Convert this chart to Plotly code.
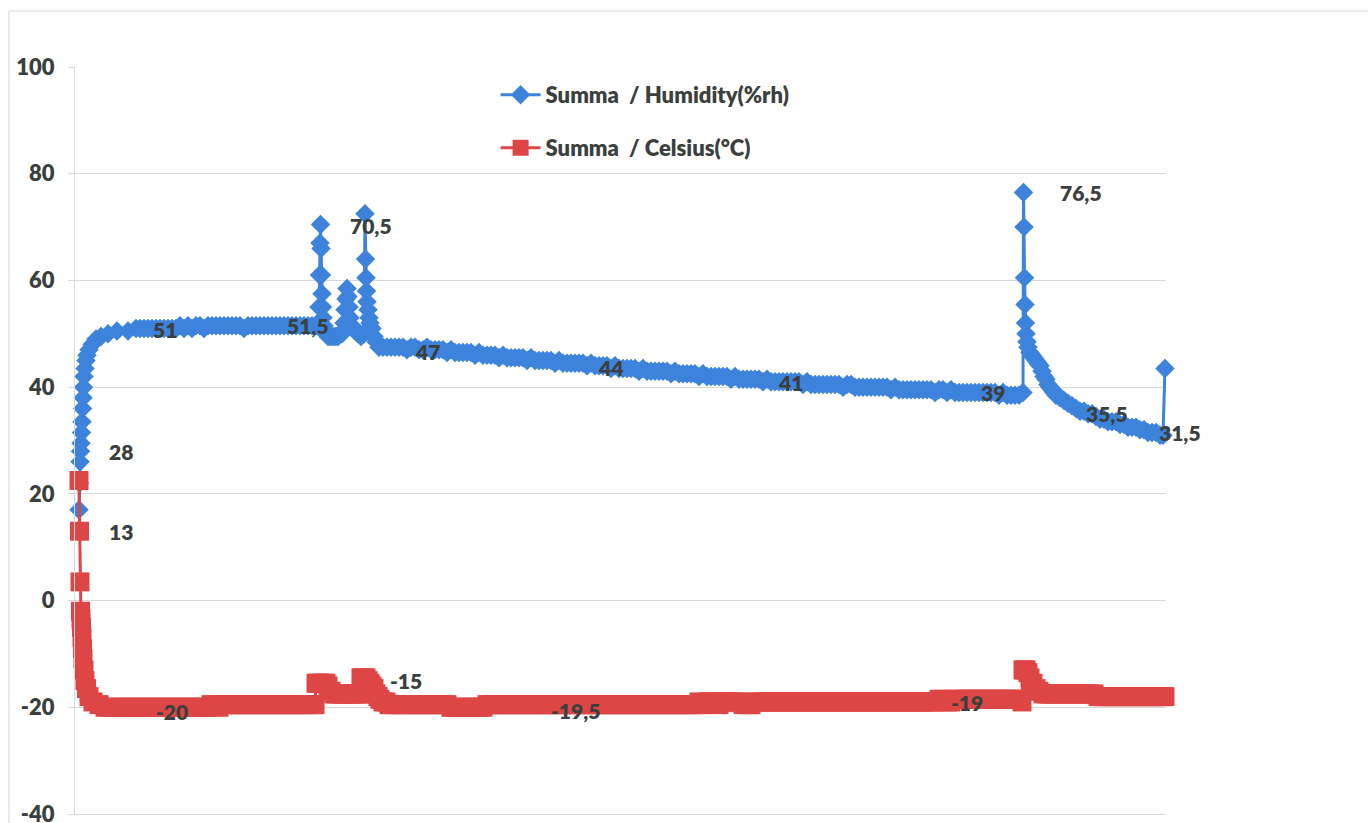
import plotly.graph_objects as go

# ---------------------------------------------------------------------------
# Logger readings (sample number -> reading). Sampling is dense around the
# door-opening events; long steady stretches are read every 8th sample.
# ---------------------------------------------------------------------------

# Relative humidity, %rh
rh_start_idx = [0, 1, 2, 3, 4, 5, 6, 7, 8, 9, 10, 12, 14, 16, 20, 26, 34, 44, 58, 76, 98, 114, 122]
rh_start = [17, 22, 26, 28, 29.5, 31.5, 33.5, 36, 38, 40, 42, 43.5, 45, 46, 47, 48, 49, 49.5, 50, 50.5, 50.5, 51, 51]

rh_steady_idx = list(range(130, 475, 8))
rh_steady = [51, 51, 51, 51, 51, 51, 51, 51, 51, 51.5,
             51, 51.5, 51, 51.5, 51.5, 51, 51.5, 51.5, 51.5,
             51.5, 51.5, 51.5, 51.5, 51.5, 51.5, 51, 51.5, 51.5, 51.5,
             51.5, 51.5, 51.5, 51.5, 51.5, 51.5, 51.5, 51.5, 51.5, 51.5,
             51.5, 51.5, 51.5, 51.5, 51.5]

rh_peaks_idx = [478, 480, 481, 482, 483, 484, 485, 486, 487, 488, 490, 494, 498, 502, 506, 510, 514, 518, 522, 526,
                530, 532, 534, 536, 538, 540, 542, 546, 552, 558, 564, 568,
                570, 572, 573, 574, 575, 576, 578, 580, 582, 586, 590, 594, 600]
rh_peaks = [51.5, 55, 61, 67, 70.5, 66, 61, 57.5, 55, 53, 51.5, 50, 49.5, 49.5, 49.5, 49.5, 49.5, 49.5, 50, 50,
            52, 54.5, 56.5, 58.5, 57, 55, 53, 51.5, 50.5, 50, 49.5, 50,
            50, 72.5, 64, 60.5, 58, 56, 54.5, 53, 52, 51, 49.5, 48.5, 47.5]

rh_drift_idx = list(range(608, 1881, 8))
rh_drift = [47.5, 47.5, 47.5, 47.5, 47.5, 47.5, 47, 47.5, 47.5, 47,
            47, 47.5, 47, 47, 47, 47, 46.5, 47, 46.5, 46.5,
            46.5, 46.5, 46.5, 46, 46.5, 46, 46, 46, 46, 45.5,
            46, 45.5, 45.5, 45.5, 45.5, 45.5, 45, 45.5, 45, 45,
            45, 45, 45, 44.5, 45, 44.5, 44.5, 44.5, 44.5, 44.5,
            44.5, 44, 44.5, 44, 44, 44, 44, 43.5, 44, 43.5,
            43.5, 43.5, 43.5, 43.5, 43, 43.5, 43, 43, 43, 43,
            43, 43, 42.5, 43, 42.5, 42.5, 42.5, 42.5, 42.5, 42,
            42.5, 42, 42, 42, 42, 42, 42, 41.5, 42, 41.5,
            41.5, 41.5, 41.5, 41.5, 41.5, 41, 41.5, 41, 41, 41,
            41, 41, 41, 41, 41, 40.5, 41, 40.5, 40.5, 40.5,
            40.5, 40.5, 40.5, 40.5, 40.5, 40, 40.5, 40.5, 40, 40,
            40, 40, 40, 40, 40, 40, 40, 39.5, 40, 39.5,
            39.5, 39.5, 39.5, 39.5, 39.5, 39.5, 39.5, 39.5, 39, 39.5,
            39.5, 39, 39.5, 39, 39, 39, 39, 39, 39, 39,
            39, 39, 39, 39, 38.5, 39, 38.5, 38.5, 38.5, 38.5]

rh_end_idx = [1888, 1889, 1890, 1891, 1892, 1893, 1894, 1896, 1898, 1902, 1906, 1910, 1914, 1918,
              1922, 1926, 1930, 1934, 1938, 1942, 1946, 1950, 1954, 1958, 1962, 1970, 1978, 1986,
              1994, 2002] + list(range(2010, 2163, 8)) + [2168, 2172]
rh_end = [39, 76.5, 70, 60.5, 55.5, 52, 50, 48.5, 47.5, 46.5, 46, 45.5, 45, 44.5,
          44, 43, 42, 41.5, 40.5, 40, 39.5, 39, 38.5, 38.5, 38, 37.5, 37, 36.5,
          36, 35.5,
          35.5, 35, 35, 34.5, 34, 34, 33.5, 33.5, 33.5, 33,
          33, 32.5, 32.5, 32.5, 32, 32, 31.5, 31.5, 31.5, 31,
          31, 43.5]

# Temperature, °C
t_start_idx = [0, 1, 2, 3, 4, 5, 6, 7, 8, 10, 12, 15, 20, 28, 40, 52, 62]
t_start = [22.5, 13, 3.5, -2, -3.5, -5, -7, -9, -11, -13, -15, -16.5, -18, -19, -19.5, -20, -20]

t_steady_idx = list(range(72, 465, 8))
t_steady = [-20, -20, -20, -20, -20, -20, -20, -20, -20, -20, -20, -20,
            -20, -20, -20, -20, -20, -20, -20, -20, -20, -20, -20, -20,
            -19.5, -19.5, -20, -19.5, -19.5, -19.5, -19.5, -19.5, -19.5, -19.5, -19.5, -19.5, -19.5,
            -19.5, -19.5, -19.5, -19.5, -19.5, -19.5, -19.5, -19.5, -19.5, -19.5, -19.5, -19.5, -19.5]

t_peaks_idx = [472, 474, 478, 482, 486, 490, 494, 498, 504, 510, 516, 522, 528, 534, 540, 546, 552, 558, 562,
               564, 566, 570, 574, 578, 582, 586, 590, 594, 598, 602, 608, 614, 620, 626]
t_peaks = [-19.5, -15.5, -15.5, -15.5, -15.5, -15.5, -15.5, -16, -17, -17.5, -17.5, -17.5, -17.5, -17.5, -17.5,
           -17.5, -17.5, -17.5, -17.5,
           -14.5, -14.5, -14.5, -14.5, -15, -15.5, -16, -16.5, -17.5, -18, -18.5, -19, -19, -19.5, -19.5]

t_flat_idx = list(range(632, 1873, 8))
t_flat = [-19.5, -19.5, -19.5, -19.5, -19.5, -19.5, -19.5, -19.5, -19.5, -19.5, -19.5, -19.5,
          -19.5, -19.5, -20, -20, -20, -20, -20, -20, -20, -20, -20, -19.5,
          -19.5, -19.5, -19.5, -19.5, -19.5, -19.5, -19.5, -19.5, -19.5, -19.5, -19.5, -19.5,
          -19.5, -19.5, -19.5, -19.5, -19.5, -19.5, -19.5, -19.5, -19.5, -19.5, -19.5, -19.5,
          -19.5, -19.5, -19.5, -19.5, -19.5, -19.5, -19.5, -19.5, -19.5, -19.5, -19.5, -19.5,
          -19.5, -19.5, -19.5, -19.5, -19.5, -19.5, -19.5, -19.5, -19.5, -19.5, -19.5, -19.5,
          -19.5, -19.5, -19.5, -19.5, -19, -19.5, -19, -19, -19, -19.5, -19, -19,
          -19, -19, -19, -19.5, -19.5, -19.5, -19, -19, -19, -19, -19, -19,
          -19, -19, -19, -19, -19, -19, -19, -19, -19, -19, -19, -19,
          -19, -19, -19, -19, -19, -19, -19, -19, -19, -19, -19, -19,
          -19, -19, -19, -19, -19, -19, -19, -19, -19, -19, -19, -19,
          -19, -19, -19, -19, -18.5, -18.5, -19, -19, -18.5, -18.5, -18.5, -18.5,
          -18.5, -18.5, -18.5, -18.5, -18.5, -18.5, -18.5, -18.5, -18.5, -18.5, -18.5, -18.5]

t_end_idx = [1880, 1886, 1888, 1891, 1894, 1898, 1902, 1908, 1914, 1920, 1928, 1936, 1942] + \
            list(range(1950, 2167, 8)) + [2172]
t_end = [-18.5, -19, -13, -13, -13, -13.5, -14.5, -15.5, -16.5, -17, -17.5, -17.5, -17.5,
         -17.5, -17.5, -17.5, -17.5, -17.5, -17.5, -17.5, -17.5, -17.5, -17.5, -17.5,
         -18, -18, -18, -18, -18, -18, -18, -18, -18, -18, -18, -18, -18, -18, -18, -18, -18,
         -18]

rh_idx = rh_start_idx + rh_steady_idx + rh_peaks_idx + rh_drift_idx + rh_end_idx
rh_val = rh_start + rh_steady + rh_peaks + rh_drift + rh_end
t_idx = t_start_idx + t_steady_idx + t_peaks_idx + t_flat_idx + t_end_idx
t_val = t_start + t_steady + t_peaks + t_flat + t_end
assert len(rh_idx) == len(rh_val), (len(rh_idx), len(rh_val))
assert len(t_idx) == len(t_val), (len(t_idx), len(t_val))

# Point labels: (sample, value, horizontal anchor, x nudge px, y nudge px)
rh_labels = [(56, 28, "left", 0, 0), (172, 51, "center", 0, -1), (458, 51.5, "center", 0, 0),
             (538, 70.5, "left", 0, -1), (696, 47, "center", 0, -2), (1062, 44, "center", 0, -2),
             (1422, 41, "center", 0, -1), (1828, 39, "center", 0, 0), (1958, 76.5, "left", 0, 0),
             (2056, 35.5, "center", 0, -2), (2146, 31.5, "center", 28, 0)]
t_labels = [(56, 13, "left", 0, 0), (186, -20, "center", 0, -4), (618, -15, "left", 0, 0),
            (992, -19.5, "center", 0, -6), (1776, -19, "center", 0, -1)]

y_ticks = [-40, -20, 0, 20, 40, 60, 80, 100]
y_tick_text = ["-40", "-20", "0", "20", "40", "60", "80", "100"]

BLUE = "#3d83dc"
RED = "#de4646"
TEXT = "#3b3f3d"
GRID = "#d9d9d9"
FONT = "Lato"
WEIGHT = 800


def comma(v):
    return f"{v:g}".replace(".", ",")


fig = go.Figure()
fig.add_trace(go.Scatter(
    x=rh_idx, y=rh_val, mode="lines+markers",
    name="Summa\u00a0 / Humidity(%rh)",
    line=dict(color=BLUE, width=3),
    marker=dict(symbol="diamond", size=15, color=BLUE, line=dict(width=0)),
    cliponaxis=False, legend="legend", hoverinfo="x+y",
))
fig.add_trace(go.Scatter(
    x=t_idx, y=t_val, mode="lines+markers",
    name="Summa\u00a0 / Celsius(°C)",
    line=dict(color=RED, width=3),
    marker=dict(symbol="square", size=19, color=RED, line=dict(width=0)),
    cliponaxis=False, legend="legend2", hoverinfo="x+y",
))

annotations = []
for x, v, anchor, dx, dy in rh_labels + t_labels:
    annotations.append(dict(
        x=x, y=v, xref="x", yref="y", text=comma(v), showarrow=False,
        xanchor=anchor, yanchor="middle", xshift=dx, yshift=dy,
        font=dict(family=FONT, size=21, color=TEXT, weight=WEIGHT),
    ))

legend_style = dict(
    xanchor="left", yanchor="middle", bgcolor="rgba(0,0,0,0)",
    font=dict(family=FONT, size=22, color=TEXT, weight=WEIGHT),
    itemwidth=40,
)

fig.update_layout(
    width=1368, height=823, autosize=False,
    margin=dict(l=75, r=202, t=67, b=9, autoexpand=False),
    paper_bgcolor="white", plot_bgcolor="white",
    showlegend=True,
    legend=dict(x=0.3855, y=0.9625, **legend_style),
    legend2=dict(x=0.3855, y=0.8916, **legend_style),
    annotations=annotations,
    xaxis=dict(range=[-8, 2174], showgrid=False, zeroline=False, showticklabels=False,
               showline=True, linecolor=GRID, linewidth=1, ticks="", automargin=False),
    yaxis=dict(range=[-40, 100], tickvals=y_ticks, ticktext=y_tick_text,
               showgrid=True, gridcolor=GRID, automargin=False,
               gridwidth=1, zeroline=False, showline=True, linecolor=GRID, linewidth=1,
               ticks="outside", ticklen=6, tickcolor=GRID, ticklabelstandoff=9,
               ticklabeloverflow="allow",
               tickfont=dict(family=FONT, size=22, color=TEXT, weight=WEIGHT)),
    shapes=[dict(type="rect", xref="paper", yref="paper",
                 x0=-0.0605, x1=1.2, y0=-0.03, y1=1.0750,
                 line=dict(color=GRID, width=1), fillcolor="rgba(0,0,0,0)", layer="below")],
)

fig.write_html("out.html")
